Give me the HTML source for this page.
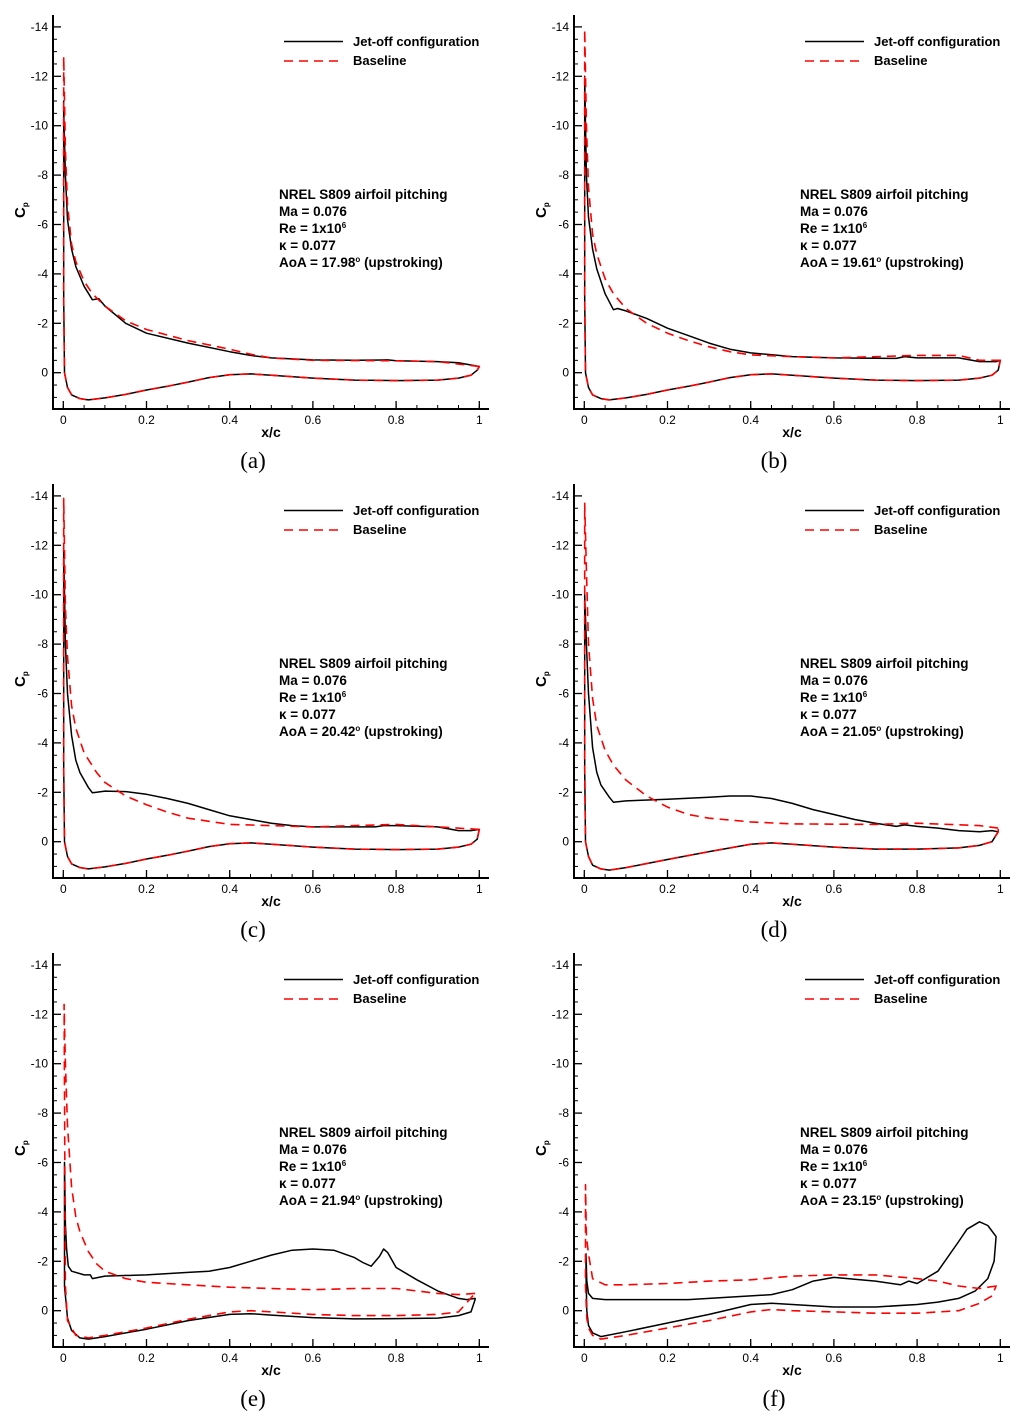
<!DOCTYPE html>
<html><head><meta charset="utf-8">
<style>
html,body{margin:0;padding:0;background:#fff;}
svg{display:block;font-family:"Liberation Sans",Arial,sans-serif;}
.tick{font-size:12px;fill:#000;}
.b{font-weight:bold;font-size:13px;fill:#000;}
.a{font-weight:bold;font-size:13.5px;fill:#000;}
</style></head>
<body>
<svg id="fig" width="1024" height="1421" viewBox="0 0 1024 1421" xmlns="http://www.w3.org/2000/svg"></svg>
<script>
// ---- data: [x/c, Cp] pairs ----
const lowerCommon = [[0.001,-3],[0.003,0],[0.01,0.6],[0.02,0.9],[0.04,1.05],[0.06,1.1],[0.1,1.02],[0.15,0.88],[0.2,0.7],[0.25,0.55],[0.3,0.38],[0.35,0.2],[0.4,0.08],[0.45,0.05],[0.5,0.1],[0.6,0.22],[0.7,0.3],[0.8,0.32],[0.9,0.3],[0.95,0.22],[0.98,0.1],[0.995,-0.1]];
const aJetUpper = [[0.001,-11],[0.002,-10],[0.005,-8],[0.01,-6.2],[0.02,-5.0],[0.03,-4.3],[0.05,-3.5],[0.07,-2.95],[0.085,-3.0],[0.1,-2.7],[0.15,-2.0],[0.2,-1.6],[0.3,-1.2],[0.4,-0.85],[0.45,-0.7],[0.5,-0.6],[0.6,-0.52],[0.7,-0.5],[0.78,-0.52],[0.8,-0.48],[0.9,-0.45],[0.95,-0.4],[1.0,-0.25]];
const aBaseUpper = [[0.001,-12.8],[0.005,-9],[0.01,-6.8],[0.02,-5.2],[0.03,-4.5],[0.05,-3.7],[0.07,-3.2],[0.1,-2.7],[0.15,-2.1],[0.2,-1.75],[0.3,-1.3],[0.4,-0.95],[0.45,-0.75],[0.5,-0.6],[0.6,-0.5],[0.8,-0.48],[0.9,-0.45],[1.0,-0.25]];
const bJetUpper = [[0.001,-12],[0.002,-11],[0.005,-8],[0.01,-6.3],[0.02,-5],[0.03,-4.2],[0.05,-3.2],[0.07,-2.55],[0.08,-2.6],[0.1,-2.5],[0.15,-2.2],[0.2,-1.8],[0.25,-1.5],[0.3,-1.2],[0.35,-0.95],[0.4,-0.8],[0.5,-0.65],[0.6,-0.6],[0.75,-0.58],[0.77,-0.65],[0.8,-0.6],[0.9,-0.6],[0.95,-0.45],[0.99,-0.45],[1.0,-0.5]];
const bBaseUpper = [[0.001,-13.9],[0.005,-10],[0.01,-7.5],[0.02,-5.6],[0.03,-4.8],[0.05,-3.8],[0.07,-3.2],[0.1,-2.6],[0.15,-2.0],[0.2,-1.6],[0.25,-1.3],[0.3,-1.05],[0.35,-0.85],[0.4,-0.72],[0.5,-0.65],[0.6,-0.6],[0.8,-0.7],[0.9,-0.7],[0.95,-0.5],[1.0,-0.5]];
const cJetUpper = [[0.001,-12],[0.005,-8],[0.01,-6],[0.02,-4.3],[0.03,-3.3],[0.04,-2.8],[0.06,-2.2],[0.07,-1.98],[0.08,-2.0],[0.1,-2.05],[0.15,-2.03],[0.2,-1.92],[0.25,-1.75],[0.3,-1.55],[0.35,-1.3],[0.4,-1.05],[0.45,-0.9],[0.5,-0.75],[0.55,-0.65],[0.6,-0.6],[0.75,-0.6],[0.77,-0.65],[0.8,-0.65],[0.9,-0.6],[0.95,-0.45],[0.98,-0.45],[1.0,-0.5]];
const cBaseUpper = [[0.001,-13.9],[0.005,-9.5],[0.01,-7.5],[0.02,-5.5],[0.03,-4.6],[0.05,-3.6],[0.08,-2.8],[0.1,-2.4],[0.15,-1.85],[0.2,-1.5],[0.25,-1.2],[0.3,-0.95],[0.4,-0.7],[0.5,-0.65],[0.6,-0.6],[0.7,-0.65],[0.8,-0.7],[0.9,-0.6],[1.0,-0.5]];
const dJetUpper = [[0.001,-10],[0.005,-8],[0.01,-6],[0.02,-3.8],[0.03,-2.8],[0.04,-2.3],[0.06,-1.8],[0.07,-1.6],[0.1,-1.65],[0.2,-1.72],[0.3,-1.8],[0.35,-1.85],[0.4,-1.85],[0.45,-1.75],[0.5,-1.55],[0.55,-1.3],[0.6,-1.1],[0.65,-0.9],[0.7,-0.75],[0.75,-0.62],[0.77,-0.68],[0.8,-0.62],[0.85,-0.55],[0.9,-0.45],[0.95,-0.4],[0.98,-0.45],[0.995,-0.4]];
const dBaseUpper = [[0.001,-13.7],[0.005,-11],[0.01,-8],[0.02,-5.8],[0.03,-4.7],[0.05,-3.7],[0.07,-3.1],[0.1,-2.5],[0.15,-1.85],[0.2,-1.4],[0.25,-1.1],[0.3,-0.95],[0.4,-0.8],[0.5,-0.72],[0.7,-0.7],[0.8,-0.75],[0.95,-0.65],[0.995,-0.55]];
const eJetUpper = [[0.003,-6],[0.005,-3.5],[0.008,-2.5],[0.012,-1.8],[0.02,-1.6],[0.05,-1.45],[0.065,-1.45],[0.07,-1.3],[0.1,-1.4],[0.2,-1.45],[0.3,-1.55],[0.35,-1.6],[0.4,-1.75],[0.45,-2.0],[0.5,-2.25],[0.55,-2.45],[0.6,-2.5],[0.65,-2.45],[0.7,-2.15],[0.72,-1.95],[0.74,-1.8],[0.76,-2.2],[0.77,-2.5],[0.78,-2.35],[0.8,-1.75],[0.85,-1.25],[0.9,-0.8],[0.95,-0.5],[0.97,-0.45],[0.99,-0.5]];
const eJetLower = [[0.003,-1],[0.01,0.3],[0.02,0.8],[0.04,1.1],[0.06,1.15],[0.1,1.05],[0.2,0.75],[0.3,0.4],[0.4,0.15],[0.45,0.12],[0.5,0.18],[0.6,0.28],[0.7,0.33],[0.8,0.32],[0.9,0.3],[0.95,0.2],[0.98,0.05],[0.99,-0.45]];
const eBaseUpper = [[0.002,-12.4],[0.005,-10],[0.01,-7.5],[0.02,-5],[0.03,-3.8],[0.04,-3.2],[0.06,-2.4],[0.08,-1.9],[0.1,-1.6],[0.15,-1.3],[0.2,-1.15],[0.3,-1.05],[0.4,-0.95],[0.5,-0.9],[0.6,-0.85],[0.7,-0.9],[0.8,-0.9],[0.9,-0.7],[0.95,-0.65],[0.99,-0.7]];
const eBaseLower = [[0.005,-1],[0.01,0.4],[0.03,1.0],[0.06,1.1],[0.1,1.0],[0.2,0.7],[0.3,0.35],[0.4,0.05],[0.45,0.0],[0.5,0.05],[0.6,0.15],[0.7,0.2],[0.8,0.2],[0.9,0.15],[0.95,0.05],[0.99,-0.7]];
const fJetUpper = [[0.004,-2.3],[0.006,-1.2],[0.01,-0.7],[0.02,-0.5],[0.05,-0.45],[0.1,-0.45],[0.25,-0.45],[0.3,-0.5],[0.4,-0.6],[0.45,-0.65],[0.5,-0.85],[0.55,-1.2],[0.6,-1.35],[0.7,-1.2],[0.76,-1.05],[0.78,-1.2],[0.8,-1.1],[0.85,-1.6],[0.9,-2.8],[0.92,-3.3],[0.95,-3.6],[0.97,-3.45],[0.99,-3.0]];
const fJetLower = [[0.004,-1.5],[0.006,0.0],[0.01,0.6],[0.02,0.9],[0.04,1.05],[0.1,0.85],[0.2,0.5],[0.3,0.15],[0.35,-0.05],[0.4,-0.25],[0.45,-0.3],[0.5,-0.25],[0.6,-0.15],[0.7,-0.15],[0.8,-0.25],[0.85,-0.35],[0.9,-0.5],[0.94,-0.8],[0.97,-1.3],[0.985,-2.0],[0.99,-3.0]];
const fBaseUpper = [[0.003,-5.1],[0.005,-3],[0.01,-2.3],[0.02,-1.3],[0.05,-1.05],[0.1,-1.05],[0.2,-1.1],[0.3,-1.2],[0.4,-1.25],[0.5,-1.4],[0.6,-1.45],[0.7,-1.45],[0.8,-1.3],[0.85,-1.2],[0.9,-1.0],[0.95,-0.9],[0.99,-1.0]];
const fBaseLower = [[0.003,-1],[0.006,0.3],[0.01,0.7],[0.02,1.0],[0.04,1.15],[0.1,1.0],[0.2,0.7],[0.3,0.4],[0.4,0.05],[0.45,-0.05],[0.5,0.0],[0.6,0.05],[0.7,0.1],[0.8,0.1],[0.9,0.0],[0.95,-0.3],[0.98,-0.6],[0.99,-1.0]];
const dLower = [[0.001,-3],[0.003,0],[0.01,0.6],[0.02,0.95],[0.04,1.1],[0.06,1.15],[0.1,1.05],[0.2,0.72],[0.3,0.4],[0.4,0.1],[0.45,0.05],[0.5,0.1],[0.6,0.22],[0.7,0.3],[0.8,0.3],[0.9,0.25],[0.95,0.15],[0.98,0.0],[0.995,-0.4]];

const yTicks = [-14,-12,-10,-8,-6,-4,-2,0];
const xTicks = [0,0.2,0.4,0.6,0.8,1];
const xTickLabels = ["0","0.2","0.4","0.6","0.8","1"];
const panelLetters = ["a","b","c","d","e","f"];
const aoaValues = ["17.98","19.61","20.42","21.05","21.94","23.15"];

const panels = [
 {jet:[aJetUpper,lowerCommon], base:[aBaseUpper,lowerCommon]},
 {jet:[bJetUpper,lowerCommon], base:[bBaseUpper,lowerCommon]},
 {jet:[cJetUpper,lowerCommon], base:[cBaseUpper,lowerCommon]},
 {jet:[dJetUpper,dLower], base:[dBaseUpper,dLower]},
 {jet:[eJetUpper,eJetLower], base:[eBaseUpper,eBaseLower]},
 {jet:[fJetUpper,fJetLower], base:[fBaseUpper,fBaseLower]}
];

const NS="http://www.w3.org/2000/svg";
const svg=document.getElementById('fig');
function mk(tag,attrs,parent){const e=document.createElementNS(NS,tag);for(const k in attrs)e.setAttribute(k,attrs[k]);(parent||svg).appendChild(e);return e;}

panels.forEach((p,i)=>{
  const ox=(i%2)*521, oy=Math.floor(i/2)*469;
  const g=mk('g',{});
  
  
  const sx=v=>63.3+ox+v*416;
  const sy=v=>372.7+oy+v*24.7;
  const L=53+ox, B=409+oy, T=15+oy, R=489+ox;
  for(let v=-14.5;v<=1.5;v+=0.5){
    if(Math.abs(v%2)<1e-6) continue;
    const y=sy(v); if(y<T||y>B) continue;
    mk('line',{x1:L,x2:L+4,y1:y,y2:y,stroke:'#000','stroke-width':1},g);
  }
  for(let v=0;v<=1.0001;v+=0.05){
    mk('line',{x1:sx(v),x2:sx(v),y1:B,y2:B-4,stroke:'#000','stroke-width':1},g);
  }
  yTicks.forEach(v=>{
    const t=mk('line',{x1:L,x2:L+8,y1:sy(v),y2:sy(v),stroke:'#000','stroke-width':1.3},g);
    
    
    const tx=mk('text',{x:48+ox,y:sy(v)+4,'text-anchor':'end',class:'tick'},g);
    tx.textContent=String(v);
    
    
  });
  xTicks.forEach((v,k)=>{
    mk('line',{x1:sx(v),x2:sx(v),y1:B,y2:B-8,stroke:'#000','stroke-width':1.3},g);
    const tx=mk('text',{x:sx(v),y:424+oy,'text-anchor':'middle',class:'tick'},g);
    tx.textContent=xTickLabels[k];
    
    
  });
  const ax=mk('path',{d:`M${L},${T}V${B}H${R}`,fill:'none',stroke:'#000','stroke-width':2},g);
  
  
  const pathOf=(s)=>{const up=s[0].slice().reverse(),lo=s[1];
    return 'M'+up.concat(lo).map(q=>sx(q[0]).toFixed(1)+','+sy(q[1]).toFixed(1)).join('L')+'Z';};
  const jet=mk('path',{d:pathOf(p.jet),fill:'none',stroke:'#000','stroke-width':1.5,'stroke-linejoin':'round'},g);
  
  
  const base=mk('path',{d:pathOf(p.base),fill:'none',stroke:'#ff0000','stroke-width':1.6,'stroke-dasharray':'9,6','stroke-linejoin':'round'},g);
  
  
  const xl=mk('text',{x:271+ox,y:437+oy,'text-anchor':'middle','font-weight':'bold','font-size':14},g);
  xl.textContent='x/c';
  
  
  const yl=mk('text',{transform:`translate(${25+ox},${218+oy}) rotate(-90)`,'font-weight':'bold','font-size':15},g);
  yl.innerHTML='C<tspan font-size="8" dy="3">p</tspan>';
  
  
  mk('line',{x1:284+ox,x2:343+ox,y1:41.5+oy,y2:41.5+oy,stroke:'#000','stroke-width':1.5},g);
  mk('line',{x1:284+ox,x2:343+ox,y1:61+oy,y2:61+oy,stroke:'#ff0000','stroke-width':1.5,'stroke-dasharray':'9,6'},g);
  const l1=mk('text',{x:353+ox,y:46+oy,class:'b'},g); l1.textContent='Jet-off configuration';
  
  
  const l2=mk('text',{x:353+ox,y:65+oy,class:'b'},g); l2.textContent='Baseline';
  
  
  const lines=['NREL S809 airfoil pitching','Ma = 0.076','Re = 1x10<tspan font-size="8" dy="-5">6</tspan>','\u03ba = 0.077','AoA = '+aoaValues[i]+'<tspan font-size="8" dy="-5">o</tspan><tspan dy="5"> (upstroking)</tspan>'];
  lines.forEach((s,k)=>{
    const t=mk('text',{x:279+ox,y:199+oy+k*17,class:'a'},g);
    t.innerHTML=s;
    
    
  });
  const pl=mk('text',{x:253+ox,y:468+oy,'text-anchor':'middle','font-family':'"Liberation Serif",serif','font-size':23},g);
  pl.textContent='('+panelLetters[i]+')';
  
  
});
</script>
</body></html>
